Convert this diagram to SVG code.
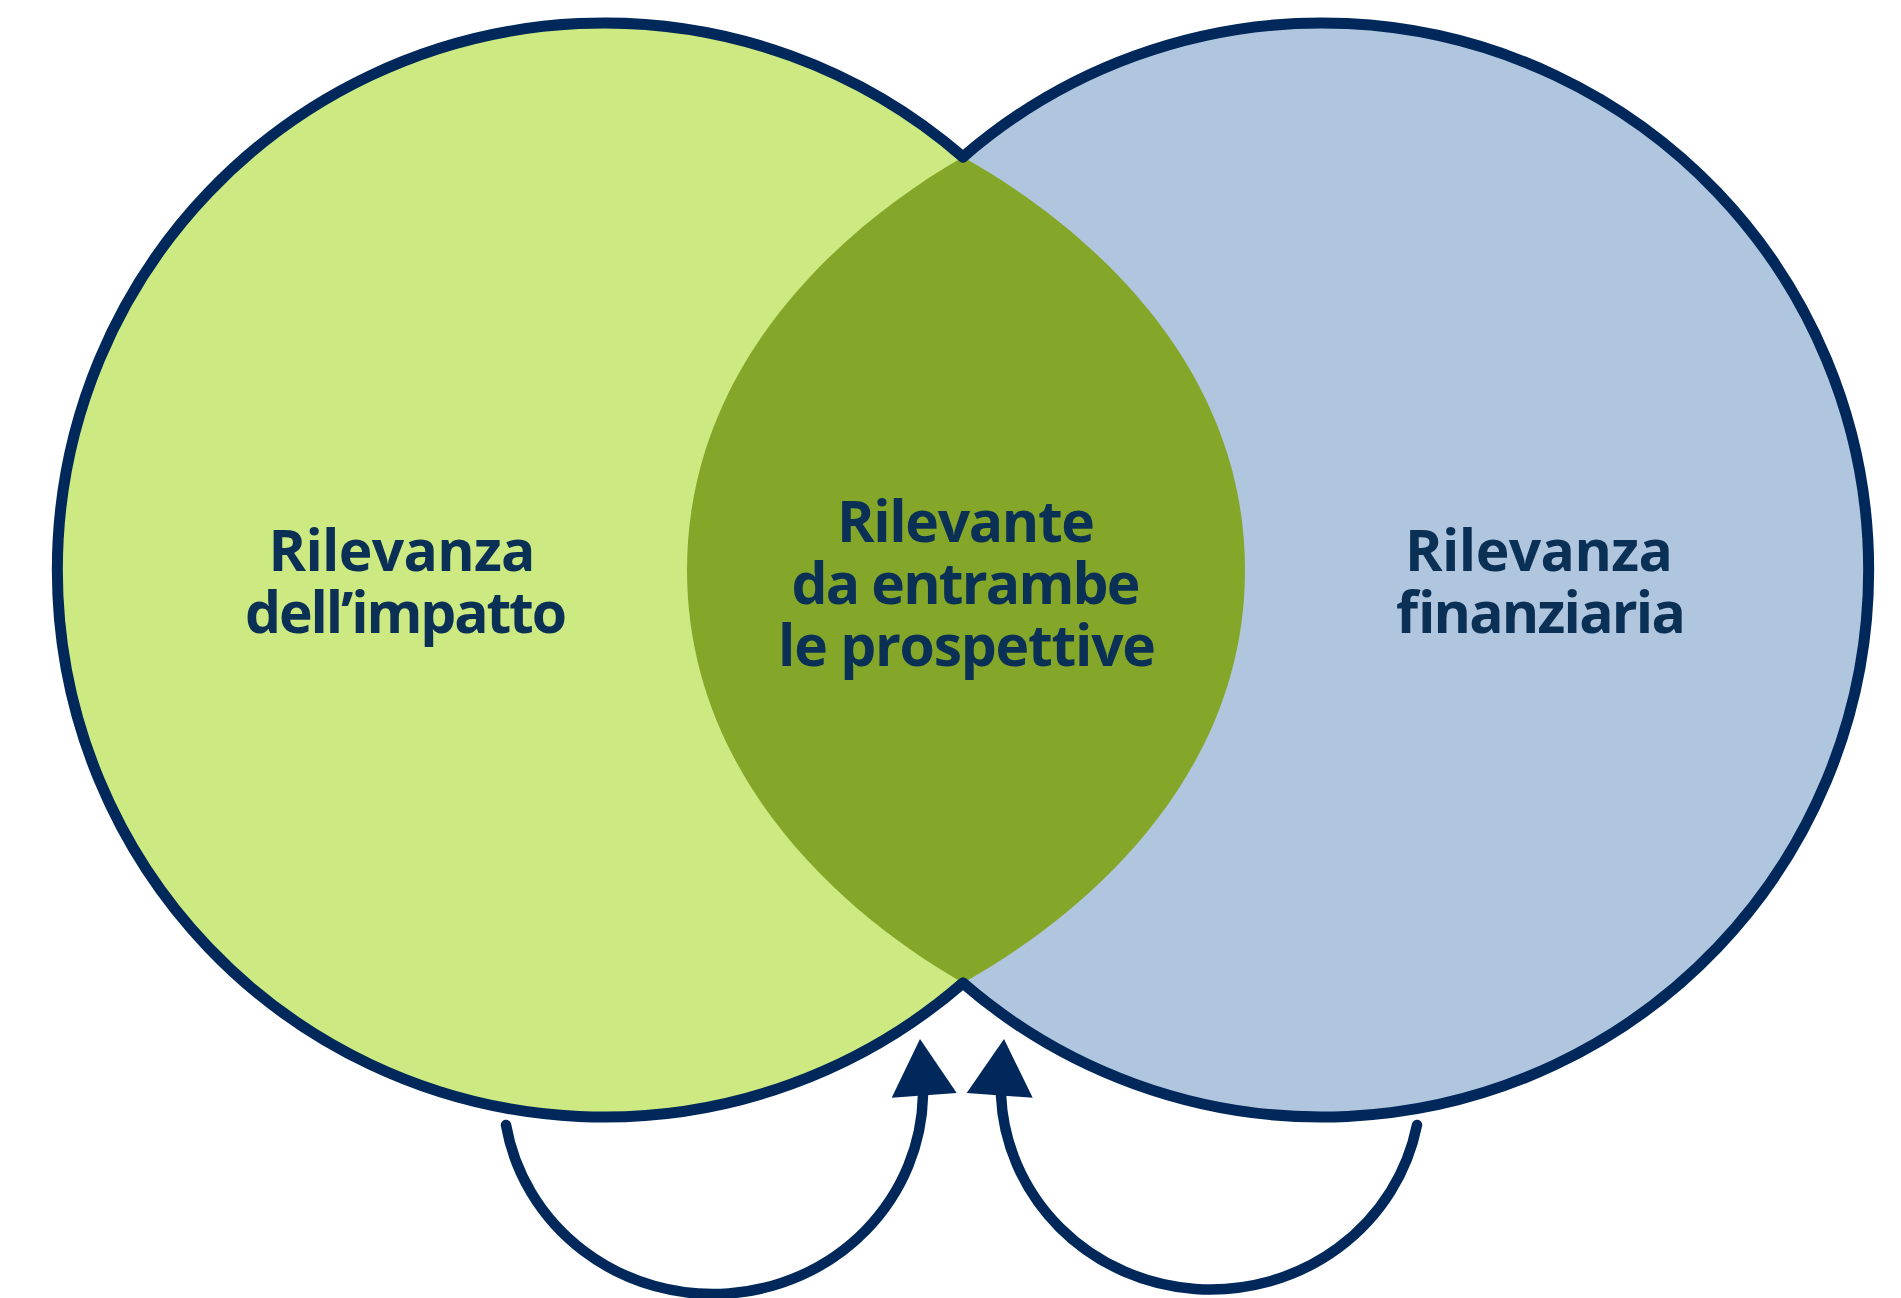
<svg xmlns="http://www.w3.org/2000/svg" width="1901" height="1298" viewBox="0 0 1901 1298">
<style>
.lbl{font-family:"Open Sans","Liberation Sans",sans-serif;font-weight:700;font-size:57px;fill:#0b3055;text-anchor:middle}
.outline{fill:none;stroke:#00285a;stroke-width:11;stroke-linejoin:round}
.conn{fill:none;stroke:#00285a;stroke-width:10.5;stroke-linecap:round}
.head{fill:#00285a}
</style>
<rect width="1901" height="1298" fill="#ffffff"/>
<g id="node-impatto">
<circle cx="604" cy="570" r="547" fill="#cde982"/>
</g>
<g id="node-finanziaria">
<circle cx="1322" cy="570" r="547" fill="#b0c5de"/>
</g>
<g id="node-entrambe">
<path d="M963,157 C833,232 687,370 687,570 C687,770 833,908 963,983 C1096,908 1245,770 1245,570 C1245,370 1096,232 963,157 Z" fill="#85a729"/>
</g>
<path class="outline" d="M963,157 A547,547 0 1 0 963,983 A547,547 0 1 0 963,157 Z"/>
<g id="labels">
<text class="lbl" x="402" y="571" textLength="267">Rilevanza</text>
<text class="lbl" x="406" y="633" textLength="322">dell’impatto</text>
<text class="lbl" x="966" y="542" textLength="258">Rilevante</text>
<text class="lbl" x="966" y="604" textLength="349">da entrambe</text>
<text class="lbl" x="967" y="666" textLength="378">le prospettive</text>
<text class="lbl" x="1539" y="571" textLength="268">Rilevanza</text>
<text class="lbl" x="1540" y="633" textLength="290">finanziaria</text>
</g>
<g id="connectors">
<path class="conn" d="M506,1125 A210,203 0 0 0 923,1095"/>
<polygon class="head" points="920,1039 891.7,1097.7 956.7,1093"/>
<path class="conn" d="M1417,1125 A210,203 0 0 1 1001,1095"/>
<polygon class="head" points="1004,1039 966.7,1093 1032.7,1097.7"/>
</g>
</svg>
